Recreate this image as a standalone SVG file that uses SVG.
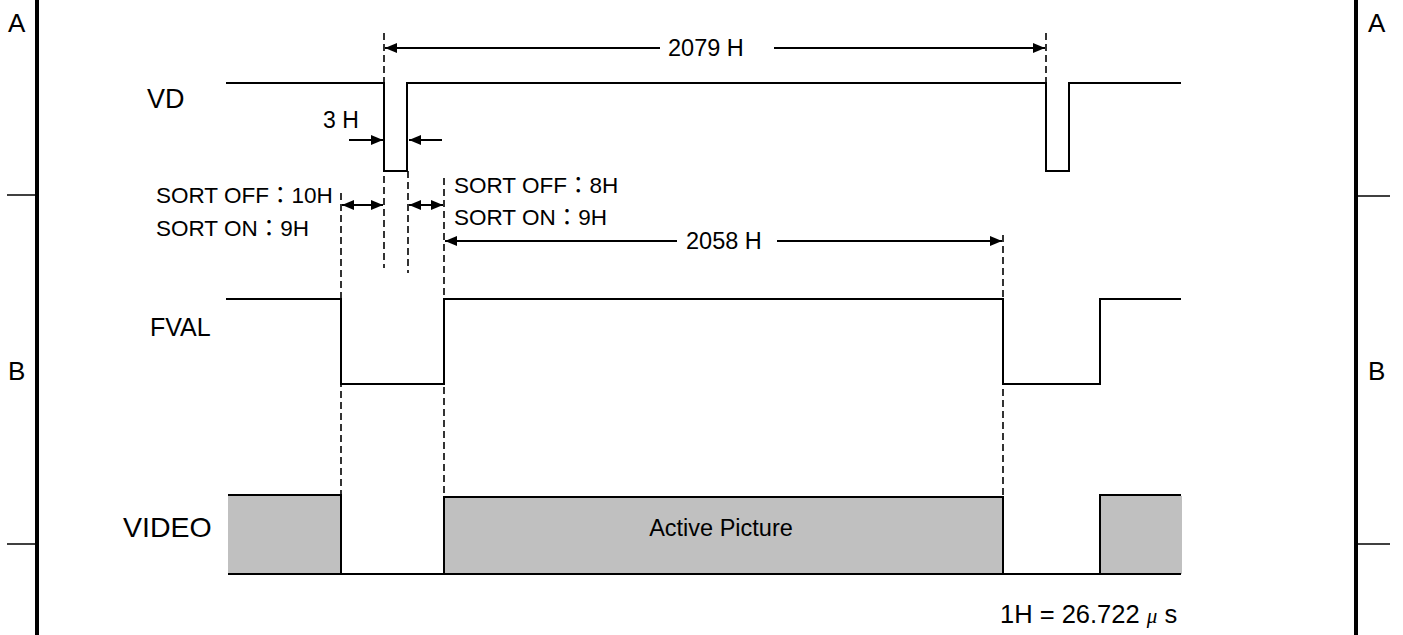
<svg xmlns="http://www.w3.org/2000/svg" width="1403" height="635" viewBox="0 0 1403 635">
<defs>
<marker id="ah" viewBox="0 0 12 10" refX="12" refY="5" markerWidth="12" markerHeight="10" markerUnits="userSpaceOnUse" orient="auto-start-reverse">
<path d="M0,0 L12,5 L0,10 Z" fill="#000"/>
</marker>
</defs>
<style>
.sig{fill:none;stroke:#000;stroke-width:2}
.dash{fill:none;stroke:#000;stroke-width:1.6;stroke-dasharray:7,4}
.dim{fill:none;stroke:#000;stroke-width:2}
.frame{stroke:#000;stroke-width:4}
.tick{stroke:#000;stroke-width:1.5}
.fill{fill:#c0c0c0;stroke:none}
text{font-family:"Liberation Sans","Noto Sans CJK JP",sans-serif;fill:#000}
.lbl{font-size:27px}
.dt{font-size:23px}
.fr{font-size:26px}
.st{font-size:22.5px}
.ap{font-size:23.5px}
</style>
<rect width="1403" height="635" fill="#fff"/>
<g id="frame">
<line class="frame" x1="37" y1="0" x2="37" y2="635"/>
<line class="frame" x1="1356" y1="0" x2="1356" y2="635"/>
<line class="tick" x1="7" y1="195" x2="37" y2="195"/>
<line class="tick" x1="7" y1="544" x2="37" y2="544"/>
<line class="tick" x1="1356" y1="196" x2="1390" y2="196"/>
<line class="tick" x1="1356" y1="544" x2="1390" y2="544"/>
<text class="fr" x="8" y="32">A</text>
<text class="fr" x="8" y="380">B</text>
<text class="fr" x="1368" y="32">A</text>
<text class="fr" x="1368" y="380">B</text>
</g>
<g id="vd">
<text class="lbl" x="147" y="108">VD</text>
<polyline class="sig" points="226,83 384,83 384,171 407,171 407,83 1046,83 1046,171 1069,171 1069,83 1181,83"/>
</g>
<g id="fval">
<text class="lbl" x="150" y="336" style="font-size:25px">FVAL</text>
<polyline class="sig" points="226,299 341,299 341,384 444,384 444,299 1003,299 1003,384 1100,384 1100,299 1181,299"/>
</g>
<g id="video">
<text class="lbl" x="123" y="537" style="font-size:28.5px">VIDEO</text>
<rect class="fill" x="228" y="496" width="113" height="78"/>
<rect class="fill" x="444" y="497" width="559" height="77"/>
<rect class="fill" x="1100" y="496" width="82" height="78"/>
<polyline class="sig" points="228,495 341,495 341,574"/>
<polyline class="sig" points="444,574 444,497 1003,497 1003,574"/>
<polyline class="sig" points="1100,574 1100,495 1181,495"/>
<line class="sig" x1="228" y1="574" x2="1181" y2="574"/>
<text class="ap" x="721" y="536" text-anchor="middle">Active Picture</text>
</g>
<g id="connectors">
<line class="dash" x1="384" y1="33" x2="384" y2="268"/>
<line class="dash" x1="408" y1="171" x2="408" y2="273"/>
<line class="dash" x1="341" y1="193" x2="341" y2="497"/>
<line class="dash" x1="444" y1="178" x2="444" y2="497"/>
<line class="dash" x1="1003" y1="235" x2="1003" y2="497"/>
<line class="dash" x1="1046" y1="33" x2="1046" y2="83"/>
<line class="dim" x1="660" y1="48" x2="385" y2="48" marker-end="url(#ah)"/>
<line class="dim" x1="774" y1="48" x2="1045" y2="48" marker-end="url(#ah)"/>
<line class="dim" x1="349" y1="140" x2="383" y2="140" marker-end="url(#ah)"/>
<line class="dim" x1="442" y1="140" x2="409" y2="140" marker-end="url(#ah)"/>
<line class="dim" x1="342" y1="205" x2="383" y2="205" marker-start="url(#ah)" marker-end="url(#ah)"/>
<line class="dim" x1="409" y1="205" x2="443" y2="205" marker-start="url(#ah)" marker-end="url(#ah)"/>
<line class="dim" x1="677" y1="241" x2="445" y2="241" marker-end="url(#ah)"/>
<line class="dim" x1="777" y1="241" x2="1002" y2="241" marker-end="url(#ah)"/>
</g>
<g id="labels">
<text class="dt" x="668" y="56" style="font-size:23.5px">2079 H</text>
<text class="dt" x="323" y="128">3 H</text>
<text class="st" x="156" y="203">SORT OFF：10H</text>
<text class="st" x="156" y="236">SORT ON：9H</text>
<text class="st" x="454" y="193">SORT OFF：8H</text>
<text class="st" x="454" y="225">SORT ON：9H</text>
<text class="dt" x="686" y="249" style="font-size:23.5px">2058 H</text>
<text x="1000" y="623" style="font-size:25.5px">1H = 26.722 <tspan font-family="'Liberation Serif','Noto Serif CJK JP',serif" font-style="italic" font-size="21">μ</tspan> s</text>
</g>
</svg>
